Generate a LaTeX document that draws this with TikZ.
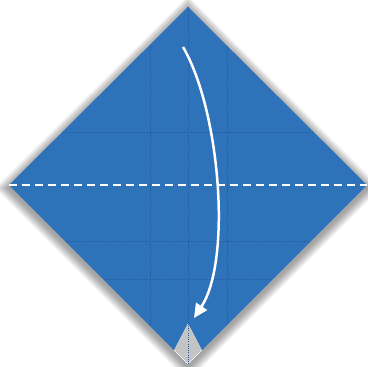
\documentclass[tikz,border=0pt]{standalone}
\usetikzlibrary{arrows.meta}
\definecolor{paperblue}{RGB}{46,114,186}
\definecolor{gridblue}{RGB}{36,90,156}
\definecolor{flapgray}{RGB}{196,196,196}
\tikzset{
  gridline/.style={gridblue, line width=0.6pt, dash pattern=on 1pt off 1.2pt},
  foldline/.style={white, line width=2.4pt, dash pattern=on 8pt off 5pt},
  movearrow/.style={white, line width=2.5pt, -{Triangle[length=14pt,width=13pt]}},
}
\begin{document}
\begin{tikzpicture}[x=1pt,y=-1pt]
\useasboundingbox (0,0) rectangle (368,367);
% key points
\coordinate (T) at (188,7);
\coordinate (R) at (367,185);
\coordinate (L) at (9,185);
\coordinate (B) at (188,364);
\coordinate (NA) at (188,323);
\coordinate (NL) at (174,350);
\coordinate (NR) at (202,350);
% soft shadow
\foreach \k in {1,...,14}{
  \fill[black, opacity=0.03] (188,{7+3-\k}) -- ({367+\k},188) -- (188,{364+3+\k}) -- ({9-\k},188) -- cycle;
}
% gray flap
\fill[flapgray, draw=white!85!flapgray, line width=0.5pt] (NA) -- (NR) -- (B) -- (NL) -- cycle;
% blue paper
\fill[paperblue] (T) -- (R) -- (NR) -- (NA) -- (NL) -- (L) -- cycle;
% grid lines
\draw[gridline] (150,45) -- (150,325);
\draw[gridline] (227,46) -- (227,325);
\draw[gridline] (T) -- (B);
\draw[gridline] (63,132) -- (313,132);
\draw[gridline] (66,241) -- (310,241);
\draw[gridline] (104,279) -- (272,279);
% fold line
\draw[foldline] (L) -- (R);
% arrow
\coordinate (A0) at (183,47);
\coordinate (A1) at (194,318);
\draw[movearrow] (A0) .. controls (220,110) and (232,260) .. (A1);
\end{tikzpicture}
\end{document}
